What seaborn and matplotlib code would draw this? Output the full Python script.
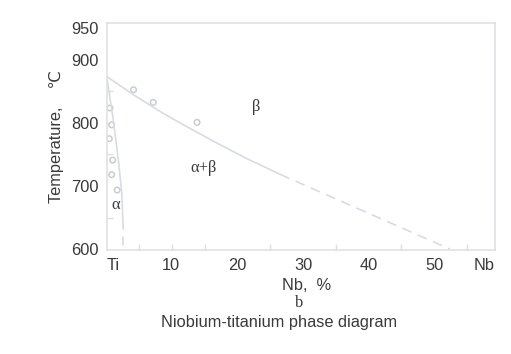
import matplotlib
matplotlib.use("Agg")
import matplotlib.pyplot as plt
import seaborn as sns

# ---- data ----
beta_nb = [0.0, 4.1, 8.1, 11.2, 16.3, 21.4, 26.5]
beta_t = [873.6, 844.7, 818.4, 800.0, 771.0, 743.5, 718.4]
beta_dash_nb = [26.5, 52.4]
beta_dash_t = [718.4, 600.0]

alpha_nb = [0.0, 1.0, 1.77, 2.29, 2.53]
alpha_t = [873.6, 805.0, 742.0, 690.0, 631.6]
alpha_dash_nb = [2.44, 2.44]
alpha_dash_t = [619.0, 607.0]

pts_nb = [0.5, 0.76, 0.4, 0.9, 0.76, 1.6, 4.1, 7.1, 13.8]
pts_t = [823.7, 797.0, 775.0, 741.0, 718.0, 693.6, 852.6, 832.6, 801.0]

x_tick_pos = [1.0, 9.8, 20, 30, 40, 50, 57.7]
x_tick_labels = ["Ti", "10", "20", "30", "40", "50", "Nb"]
y_ticks = [600, 700, 800, 900, 950]
x_minor = [5, 10, 15, 20, 25, 30, 35, 40, 45, 50, 55]
y_minor = [650, 700, 750, 800, 850, 900]

phase_labels = ["β", "α+β", "α"]
phase_nb = [22.9, 14.75, 1.4]
phase_t = [826, 729, 670]

# ---- style ----
sns.set_theme(style="white")
plt.rcParams["font.family"] = ["Liberation Sans", "DejaVu Sans"]
LINE = "#d8dce2"
SPINE = "#dcdfe3"
TXT = "#3a3a3a"
FS = 11.8
SERIF = ["Liberation Serif", "DejaVu Serif"]

fig = plt.figure(figsize=(5.11, 3.54), dpi=100)
W, H = 511, 354
ax = fig.add_axes([106.7 / W, 1 - 250 / H, (495 - 106.7) / W, (250 - 23) / H])

kw = dict(ax=ax, color=LINE, lw=1.2, sort=False, estimator=None)
sns.lineplot(x=beta_nb, y=beta_t, **kw)
sns.lineplot(x=beta_dash_nb, y=beta_dash_t, linestyle=(0, (6, 4)), **kw)
sns.lineplot(x=alpha_nb, y=alpha_t, **kw)
sns.lineplot(x=alpha_dash_nb, y=alpha_dash_t, **kw)
sns.scatterplot(x=pts_nb, y=pts_t, ax=ax, marker="o", s=16, facecolor="none",
                edgecolor="#c9cdd2", linewidth=1.1)

for lab, xn, yt in zip(phase_labels, phase_nb, phase_t):
    ax.text(xn, yt, lab, ha="center", va="center", color=TXT, fontsize=FS,
            family=SERIF)

ax.set_xlim(0, 59.3)
ax.set_ylim(598.5, 958.5)
ax.set_xticks(x_tick_pos, x_tick_labels)
ax.set_yticks(y_ticks, [str(v) for v in y_ticks])
ax.set_xticks(x_minor, minor=True)
ax.set_yticks(y_minor, minor=True)
ax.tick_params(axis="both", which="major", length=0, labelsize=FS,
               labelcolor=TXT, pad=6)
ax.tick_params(axis="both", which="minor", direction="in", length=4,
               width=1, color=SPINE, bottom=True, left=True)
for sp in ax.spines.values():
    sp.set_color(SPINE)
    sp.set_linewidth(1.1)
ax.set_xlabel("")
ax.set_ylabel("Temperature,    ℃", color=TXT, fontsize=FS, labelpad=5)

fig.text(307 / W, 1 - 285 / H, "Nb,  %", ha="center", va="center",
         color=TXT, fontsize=FS)
fig.text(299 / W, 1 - 303 / H, "b", ha="center", va="center", color=TXT,
         fontsize=FS, family=SERIF)
fig.text(279.5 / W, 1 - 323 / H, "Niobium-titanium phase diagram",
         ha="center", va="center", color=TXT, fontsize=FS)

fig.savefig("out.png", dpi=100)
